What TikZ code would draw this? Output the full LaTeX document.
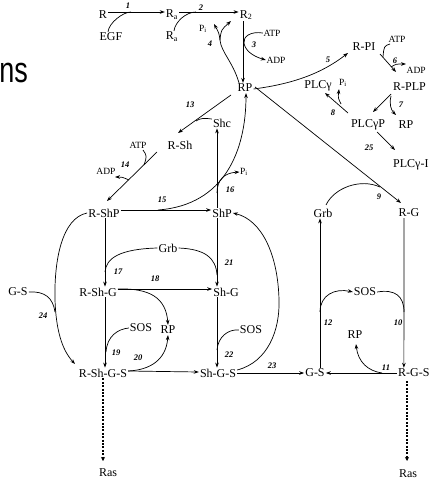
\documentclass[tikz,border=0pt]{standalone}
\usepackage{fontspec}
\setmainfont{Liberation Serif}
\newfontfamily\titlefont{Liberation Sans}
\usetikzlibrary{arrows.meta}
\begin{document}
\begin{tikzpicture}[x=1pt,y=-1pt,
 sp/.style={font=\fontsize{12}{12}\selectfont, inner sep=1pt},
 sm/.style={font=\fontsize{9.5}{10}\selectfont, inner sep=0.5pt},
 lab/.style={font=\fontsize{8.5}{9}\selectfont\itshape\bfseries, inner sep=0pt},
 ar/.style={-{Stealth[length=5pt,width=3.6pt]}},
 ln/.style={line width=0.7pt},
 dots/.style={line width=2pt, dash pattern=on 2pt off 1.4pt, -{Stealth[length=4pt,width=4pt]}},
 ttl/.style={font=\titlefont\fontsize{36}{36}\selectfont, inner sep=0pt, xscale=0.75}
]
\useasboundingbox (0,0) rectangle (429,481);
\clip (0,0) rectangle (429,481);
% title fragments
\node[ttl, anchor=base east] (frag) at (1,27) {s};
\node[ttl, anchor=base east] (title) at (28,83) {ns};
% species
\node[sp] (R) at (103,15) {R};
\node[sp] (EGF) at (111,37) {EGF};
\node[sp] (Ra) at (172,15) {R\textsubscript{a}};
\node[sp] (Rb) at (172,37) {R\textsubscript{a}};
\node[sp] (R2) at (246,15) {R\textsubscript{2}};
\node[sm] (atpA) at (272,33) {ATP};
\node[sm] (adpA) at (276,60) {ADP};
\node[sm] (piA) at (203,29) {P\textsubscript{i}};
\node[sp] (RP) at (245,88) {RP};
\node[sp] (RPI) at (364,47) {R-PI};
\node[sm] (atpB) at (397,39) {ATP};
\node[sm, anchor=west] (adpB) at (406,70) {ADP};
\node[sp, anchor=west] (RPLP) at (392,87) {R-PLP};
\node[sp] (PLCg) at (318,86) {PLCγ};
\node[sm] (piB) at (343,83) {P\textsubscript{i}};
\node[sp] (PLCgP) at (368,125) {PLCγP};
\node[sp] (RPc) at (406,125) {RP};
\node[sp, anchor=west] (PLCgI) at (392,165) {PLCγ-I};
\node[sp] (GrbR) at (323,213) {Grb};
\node[sp] (RG) at (409,213) {R-G};
\node[sp] (SOSR) at (365,292) {SOS};
\node[sp] (RPR) at (355,335) {RP};
\node[sp] (GS) at (315,373) {G-S};
\node[sp, anchor=west] (RGS) at (397,373) {R-G-S};
\node[sp] (RShGS) at (103,373) {R-Sh-G-S};
\node[sp] (ShGS) at (218,373) {Sh-G-S};
\node[sp] (Ras1) at (108,473) {Ras};
\node[sp] (Ras2) at (408,474) {Ras};
\node[sp] (GSL) at (18,292) {G-S};
\node[sp] (RShG) at (98,292) {R-Sh-G};
\node[sp] (SOSa) at (141,328) {SOS};
\node[sp] (RPa) at (168,330) {RP};
\node[sp] (ShG) at (226,292) {Sh-G};
\node[sp] (SOSb) at (251,330) {SOS};
\node[sp] (GrbM) at (168,248) {Grb};
\node[sp] (ShP) at (222,213) {ShP};
\node[sp] (Shc) at (222,123) {Shc};
\node[sm] (piC) at (244,172) {P\textsubscript{i}};
\node[sp] (RSh) at (180,145) {R-Sh};
\node[sm] (atpC) at (138,145) {ATP};
\node[sm] (adpC) at (106,171) {ADP};
\node[sp] (RShP) at (104,213) {R-ShP};
% 1
\draw[ln,ar] ([yshift=3pt]R.east) -- ([yshift=3pt]Ra.west);
\draw[ln] ([xshift=-3pt]EGF.north) .. controls +(1,-9) and +(-8,0) .. (131,12);
\node[lab] at (128,6) {1};
% 2
\draw[ln,ar] ([yshift=3pt]Ra.east) -- ([yshift=3pt]R2.west);
\draw[ln] ([xshift=2pt]Rb.north) .. controls +(1,-9) and +(-10,0) .. (196,12);
\node[lab] at (201,8) {2};
% 3
\draw[ln,ar] ([xshift=-3pt]R2.south) -- ([xshift=-2pt]RP.north);
\draw[ln,ar] (atpA.west) .. controls (250,31) and (243,37) .. (244,43) .. controls (245,50) and (252,56) .. (adpA.west);
\node[lab] at (254,45) {3};
% 4
\draw[ln] ([xshift=-6pt]RP.north) .. controls (233,62) and (221,52) .. (220,40) coordinate (b4);
\draw[ln,ar] (b4) .. controls (219,33) .. (214,24);
\draw[ln,ar] (b4) .. controls (221,30) .. (231,21);
\node[lab] at (210,44) {4};
% 5
\draw[ln,ar] ([yshift=-1pt]RP.east) .. controls (300,83) and (326,70) .. (348,53);
\node[lab] at (328,60) {5};
% 6
\draw[ln,ar] (380,54) -- (396,72);
\draw[ln] (390,44) .. controls (384,46) .. (383,57);
\draw[ln,ar] (391,67) .. controls (396,64) .. (406,64);
\node[lab] at (395,61) {6};
% 7
\draw[ln,ar] (391,94) -- (373,112);
\draw[ln,ar] (391,96) .. controls (389,104) and (391,110) .. (396,115);
\node[lab] at (401,105) {7};
% 8
\draw[ln,ar] (348,113) -- (325,93);
\draw[ln,ar] (341,104) .. controls (338,98) .. (339,89);
\node[lab] at (333,113) {8};
% 25 (PLC)
\draw[ln,ar] (377,132) -- (395,150);
\node[lab] at (369,148) {25};
% 9
\draw[ln,ar] (255,87) -- (401,203);
\draw[ln] (326,205) .. controls (334,188) and (360,178) .. (380,187);
\node[lab] at (379,197) {9};
% right loop
\draw[ln,ar] ([xshift=5pt]GS.north) -- ([xshift=-3pt]GrbR.south);
\draw[ln,ar] ([xshift=-5pt]RG.south) -- ([xshift=-10pt]RGS.north);
\draw[ln,ar] (320,312) .. controls (320,295) and (335,288) .. (SOSR.west);
\draw[ln] (SOSR.east) .. controls (395,289) and (404,296) .. (404,312);
\node[lab] at (328,323) {12};
\node[lab] at (398,323) {10};
% 11
\draw[ln,ar] (RGS.west) -- (GS.east);
\draw[ln,ar] (382,373) .. controls (368,371) and (358,362) .. (356,344);
\node[lab] at (386,368) {11};
% 23
\draw[ln,ar] (ShGS.east) -- (GS.west);
\node[lab] at (272,366) {23};
% Sh-G-S back to ShP
\draw[ln,ar] ([yshift=3pt]ShGS.east) .. controls (268,362) and (280,330) .. (279,300) .. controls (278,255) and (262,220) .. (ShP.east);
% R-Sh-G-S -> Sh-G-S
\draw[ln,ar] ([yshift=2pt]RShGS.east) -- ([yshift=1pt]ShGS.west);
% 20
\draw[ln,ar] ([yshift=2pt]RShGS.east) .. controls (150,370) and (166,360) .. (RPa.south);
\node[lab] at (138,358) {20};
% R-Sh-G -> RP
\draw[ln,ar] ([yshift=3pt]RShG.east) .. controls (150,288) and (166,298) .. (RPa.north);
% 18
\draw[ln,ar] ([yshift=3pt]RShG.east) -- ([yshift=3pt]ShG.west);
\node[lab] at (155,279) {18};
% 19
\draw[ln,ar] ([xshift=7pt]RShG.south) -- ([xshift=2pt]RShGS.north);
\draw[ln] (SOSa.west) .. controls (118,329) and (107,336) .. (106,352);
\node[lab] at (116,353) {19};
% 22
\draw[ln,ar] ([xshift=-9pt]ShG.south) -- ([xshift=-1pt]ShGS.north);
\draw[ln] (SOSb.west) .. controls (228,329) and (218,337) .. (217,350);
\node[lab] at (229,355) {22};
% 21
\draw[ln,ar] ([xshift=-5pt]ShP.south) -- ([xshift=-9pt]ShG.north);
\draw[ln] (GrbM.east) .. controls (205,249) and (216,258) .. (217,275);
\node[lab] at (229,263) {21};
% 17
\draw[ln,ar] ([xshift=1pt]RShP.south) -- ([xshift=7pt]RShG.north);
\draw[ln] (GrbM.west) .. controls (120,249) and (106,258) .. (105,272);
\node[lab] at (118,272) {17};
% 15
\draw[ln,ar] ([yshift=3pt]RShP.east) -- ([yshift=3pt]ShP.west);
\draw[ln,ar] (158,210) .. controls (225,205) and (246,150) .. ([xshift=1pt]RP.south);
\node[lab] at (162,200) {15};
% 16
\draw[ln,ar] ([xshift=-5pt]ShP.north) -- ([xshift=-5pt]Shc.south);
\draw[ln,ar] (217,193) .. controls (217,180) and (224,173) .. (piC.west);
\node[lab] at (230,190) {16};
% 13
\draw[ln,ar] (231,95) -- (178,133);
\draw[ln] ([yshift=4pt]Shc.west) .. controls (205,118) and (200,118) .. (196,121);
\node[lab] at (190,105) {13};
% 14
\draw[ln,ar] (157,152) -- (107,201);
\draw[ln] (143,150) .. controls (147,156) .. (144,165);
\draw[ln,ar] (129,180) .. controls (122,177) .. (115,177);
\node[lab] at (125,165) {14};
% 24
\draw[ln] (GSL.east) .. controls (45,291) and (53,298) .. (55,312);
\draw[ln,ar] (RShP.west) .. controls (62,218) and (54,260) .. (55,300) .. controls (56,330) and (62,350) .. (75,364);
\node[lab] at (43,316) {24};
% to Ras
\coordinate (rasA) at (103,461);
\coordinate (rgsB) at (407,381);
\coordinate (rasB) at (407,461);
\draw[dots] (RShGS.south) -- (rasA);
\draw[dots] (rgsB) -- (rasB);
\end{tikzpicture}
\end{document}
